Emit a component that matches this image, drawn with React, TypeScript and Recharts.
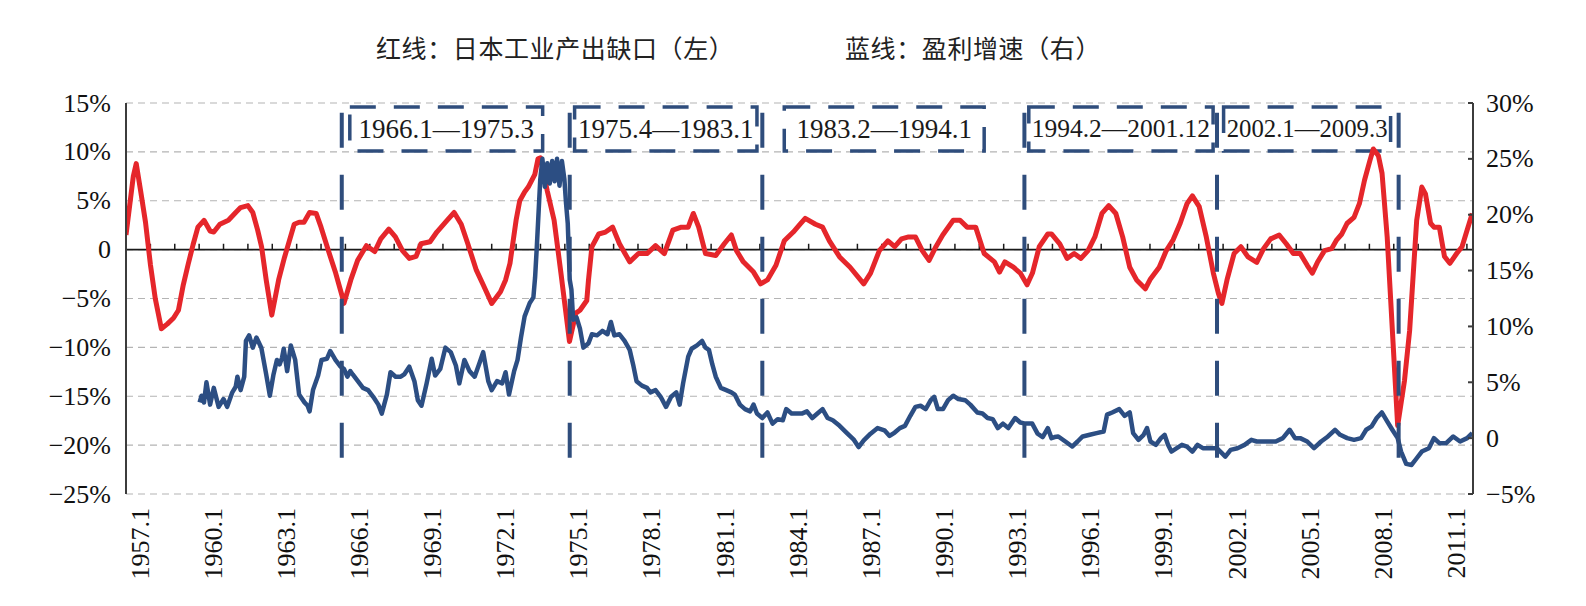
import React from "react";
import {
  LineChart,
  Line,
  XAxis,
  YAxis,
  CartesianGrid,
  ReferenceLine,
  ReferenceArea,
} from "recharts";

// ---- data ----------------------------------------------------------------
// Dates are decimal years (Jan = .0); red: output gap (left axis, %), blue: profit growth (right axis, %)
const redPoints: [number, number][] = [
  [1957.0, 1.5], [1957.15, 4.5], [1957.3, 7.5], [1957.42, 8.8], [1957.6, 6.0], [1957.8, 2.8],
  [1958.0, -1.5], [1958.2, -5.0], [1958.45, -8.1], [1958.7, -7.6], [1958.95, -7.0], [1959.15, -6.2],
  [1959.35, -3.6], [1959.55, -1.5], [1959.75, 0.5], [1959.95, 2.3], [1960.2, 3.0], [1960.45, 1.9],
  [1960.6, 1.8], [1960.85, 2.6], [1961.2, 3.0], [1961.5, 3.8], [1961.7, 4.3], [1962.0, 4.5],
  [1962.2, 3.8], [1962.4, 2.0], [1962.56, 0.3], [1962.75, -3.1], [1962.98, -6.7], [1963.26, -3.1],
  [1963.5, -0.8], [1963.9, 2.6], [1964.1, 2.8], [1964.3, 2.8], [1964.53, 3.8], [1964.8, 3.7],
  [1965.0, 2.3], [1965.3, -0.1], [1965.6, -2.4], [1965.87, -4.8], [1965.94, -5.5], [1966.22, -3.1],
  [1966.5, -1.1], [1966.86, 0.4], [1967.2, -0.2], [1967.45, 1.1], [1967.78, 2.1], [1968.05, 1.3],
  [1968.34, -0.1], [1968.62, -0.9], [1968.9, -0.7], [1969.1, 0.6], [1969.47, 0.8], [1969.75, 1.8],
  [1970.17, 3.0], [1970.46, 3.8], [1970.75, 2.6], [1971.02, 0.6], [1971.37, -2.1], [1971.65, -3.6],
  [1972.0, -5.5], [1972.36, -4.3], [1972.57, -3.1], [1972.75, -1.4], [1973.0, 3.0], [1973.15, 5.0],
  [1973.35, 5.9], [1973.5, 6.4], [1973.77, 7.7], [1973.9, 9.3], [1974.0, 9.4], [1974.28, 6.0],
  [1974.56, 3.0], [1974.84, -2.4], [1974.98, -5.2], [1975.19, -9.4], [1975.45, -6.5], [1975.62, -6.2],
  [1975.9, -5.2], [1975.97, -3.1], [1976.11, 0.3], [1976.39, 1.6], [1976.67, 1.8], [1976.96, 2.3],
  [1977.24, 0.6], [1977.66, -1.25], [1978.02, -0.4], [1978.37, -0.4], [1978.72, 0.4], [1979.08, -0.4],
  [1979.43, 2.0], [1979.78, 2.3], [1980.06, 2.3], [1980.27, 3.7], [1980.49, 2.3], [1980.77, -0.4],
  [1981.19, -0.6], [1981.54, 0.6], [1981.83, 1.5], [1982.04, -0.1], [1982.32, -1.25], [1982.74, -2.3],
  [1983.03, -3.5], [1983.31, -3.1], [1983.66, -1.6], [1984.0, 0.9], [1984.37, 1.8], [1984.65, 2.6],
  [1984.86, 3.2], [1985.28, 2.6], [1985.57, 2.3], [1985.85, 0.9], [1986.27, -0.75], [1986.7, -1.8],
  [1987.26, -3.5], [1987.54, -2.4], [1987.9, -0.1], [1988.25, 0.9], [1988.53, 0.3], [1988.81, 1.1],
  [1989.1, 1.3], [1989.38, 1.3], [1989.66, -0.1], [1989.94, -1.1], [1990.22, 0.3], [1990.5, 1.5],
  [1990.93, 3.0], [1991.21, 3.0], [1991.5, 2.3], [1991.85, 2.3], [1992.2, -0.4], [1992.62, -1.25],
  [1992.83, -2.3], [1993.05, -1.25], [1993.4, -1.8], [1993.68, -2.4], [1993.96, -3.6], [1994.18, -2.4],
  [1994.46, 0.3], [1994.81, 1.6], [1994.96, 1.6], [1995.3, 0.6], [1995.6, -0.9], [1995.89, -0.4],
  [1996.17, -0.9], [1996.46, -0.1], [1996.74, 1.3], [1997.03, 3.7], [1997.31, 4.5], [1997.6, 3.7],
  [1997.88, 1.3], [1998.17, -1.8], [1998.45, -3.1], [1998.81, -4.0], [1999.02, -3.0], [1999.38, -1.8],
  [1999.67, -0.1], [1999.95, 1.0], [2000.24, 2.7], [2000.52, 4.7], [2000.74, 5.5], [2001.02, 4.4],
  [2001.31, 1.3], [2001.6, -2.4], [2001.81, -4.5], [2001.95, -5.5], [2002.16, -3.1], [2002.45, -0.4],
  [2002.73, 0.3], [2003.02, -0.75], [2003.38, -1.3], [2003.66, 0.1], [2003.95, 1.1], [2004.3, 1.5],
  [2004.59, 0.6], [2004.88, -0.4], [2005.16, -0.4], [2005.45, -1.6], [2005.66, -2.4], [2005.87, -1.3],
  [2006.16, -0.1], [2006.45, 0.1], [2006.66, 1.0], [2006.87, 1.6], [2007.09, 2.7], [2007.37, 3.3],
  [2007.59, 4.7], [2007.8, 7.1], [2008.02, 9.1], [2008.16, 10.3], [2008.37, 9.6], [2008.52, 7.8],
  [2008.73, 1.3], [2009.16, -18.0], [2009.44, -13.4], [2009.65, -8.3], [2009.94, 3.0], [2010.15, 6.4],
  [2010.3, 5.7], [2010.51, 2.7], [2010.65, 2.3], [2010.87, 2.3], [2011.08, -0.7], [2011.3, -1.4],
  [2011.58, -0.4], [2011.8, 0.3], [2012.01, 2.0], [2012.22, 3.7],
];

const bluePoints: [number, number][] = [
  [1960.02, 3.2], [1960.1, 3.8], [1960.2, 3.2], [1960.3, 5.0], [1960.45, 3.0], [1960.6, 4.5],
  [1960.8, 2.8], [1961.0, 3.5], [1961.15, 2.8], [1961.36, 4.1], [1961.5, 4.6], [1961.57, 5.5],
  [1961.7, 4.3], [1961.85, 5.5], [1961.92, 8.7], [1962.05, 9.2], [1962.2, 8.1], [1962.35, 9.0],
  [1962.55, 8.1], [1962.75, 5.7], [1962.9, 3.8], [1963.05, 5.7], [1963.19, 7.0], [1963.3, 6.6],
  [1963.4, 7.2], [1963.47, 8.0], [1963.61, 6.0], [1963.76, 8.3], [1963.94, 7.0], [1964.1, 3.9],
  [1964.32, 3.2], [1964.45, 2.9], [1964.53, 2.4], [1964.67, 4.3], [1964.88, 5.6], [1965.02, 7.0],
  [1965.24, 7.1], [1965.38, 7.8], [1965.59, 7.0], [1965.8, 6.4], [1965.94, 6.2], [1966.08, 5.5],
  [1966.2, 6.0], [1966.3, 5.7], [1966.51, 5.1], [1966.72, 4.5], [1966.93, 4.3], [1967.14, 3.7],
  [1967.35, 3.0], [1967.49, 2.2], [1967.7, 3.9], [1967.85, 5.9], [1968.06, 5.5], [1968.27, 5.5],
  [1968.41, 5.7], [1968.62, 6.4], [1968.83, 5.1], [1968.97, 3.4], [1969.12, 2.9], [1969.33, 4.9],
  [1969.54, 7.1], [1969.68, 5.6], [1969.89, 6.2], [1970.1, 8.1], [1970.32, 7.7], [1970.53, 6.5],
  [1970.67, 4.9], [1970.88, 7.0], [1971.09, 6.0], [1971.3, 5.5], [1971.51, 6.8], [1971.65, 7.7],
  [1971.86, 5.1], [1972.0, 4.3], [1972.22, 5.1], [1972.43, 4.9], [1972.57, 5.9], [1972.71, 3.9],
  [1972.92, 6.0], [1973.06, 7.0], [1973.2, 9.0], [1973.35, 10.9], [1973.56, 12.1], [1973.71, 12.6],
  [1973.78, 14.4], [1973.85, 17.1], [1973.99, 23.1], [1974.08, 25.0], [1974.18, 22.5], [1974.28, 24.6],
  [1974.38, 22.8], [1974.48, 24.8], [1974.58, 23.0], [1974.68, 25.0], [1974.78, 22.6], [1974.88, 24.8],
  [1974.98, 23.2], [1975.05, 21.0], [1975.12, 19.2], [1975.2, 14.2], [1975.27, 13.3], [1975.34, 10.6],
  [1975.48, 10.8], [1975.62, 9.8], [1975.76, 8.1], [1975.97, 8.5], [1976.11, 9.3], [1976.32, 9.2],
  [1976.54, 9.6], [1976.75, 9.3], [1976.89, 10.4], [1977.03, 9.2], [1977.24, 9.3], [1977.45, 8.7],
  [1977.66, 7.9], [1977.8, 6.6], [1977.94, 5.1], [1978.16, 4.7], [1978.37, 4.5], [1978.51, 4.1],
  [1978.72, 4.3], [1978.93, 3.7], [1979.15, 2.8], [1979.36, 3.7], [1979.57, 4.1], [1979.71, 3.0],
  [1979.85, 4.9], [1980.06, 7.3], [1980.2, 8.0], [1980.42, 8.3], [1980.63, 8.7], [1980.77, 8.1],
  [1980.91, 7.9], [1981.05, 6.6], [1981.19, 5.5], [1981.4, 4.5], [1981.62, 4.3], [1981.83, 4.1],
  [1981.97, 3.9], [1982.18, 3.0], [1982.39, 2.6], [1982.6, 2.4], [1982.74, 3.0], [1982.88, 2.2],
  [1983.1, 1.8], [1983.31, 2.3], [1983.52, 1.3], [1983.73, 1.7], [1983.94, 1.6], [1984.08, 2.6],
  [1984.3, 2.2], [1984.51, 2.2], [1984.72, 2.2], [1984.93, 2.4], [1985.15, 1.8], [1985.36, 2.2],
  [1985.57, 2.6], [1985.78, 1.8], [1985.99, 1.6], [1986.27, 1.1], [1986.55, 0.5], [1986.84, -0.1],
  [1987.05, -0.8], [1987.26, -0.2], [1987.54, 0.4], [1987.83, 0.9], [1988.11, 0.7], [1988.32, 0.2],
  [1988.53, 0.5], [1988.74, 0.9], [1988.95, 1.1], [1989.17, 2.0], [1989.38, 2.8], [1989.59, 2.9],
  [1989.8, 2.6], [1990.01, 3.4], [1990.15, 3.7], [1990.3, 2.6], [1990.51, 2.6], [1990.72, 3.4],
  [1990.93, 3.8], [1991.14, 3.5], [1991.42, 3.4], [1991.63, 3.0], [1991.92, 2.3], [1992.13, 2.2],
  [1992.34, 1.8], [1992.55, 1.7], [1992.76, 0.9], [1992.97, 1.3], [1993.19, 0.9], [1993.47, 1.8],
  [1993.68, 1.4], [1993.89, 1.3], [1994.17, 1.3], [1994.39, 0.4], [1994.6, 0.1], [1994.81, 0.9],
  [1994.96, 0.0], [1995.09, 0.1], [1995.24, 0.15], [1995.53, -0.3], [1995.81, -0.75], [1996.03, -0.3],
  [1996.24, 0.15], [1996.53, 0.3], [1996.81, 0.45], [1997.1, 0.6], [1997.24, 2.1], [1997.45, 2.3],
  [1997.74, 2.6], [1997.96, 2.0], [1998.17, 2.3], [1998.31, 0.45], [1998.53, -0.15], [1998.74, 0.3],
  [1998.88, 0.9], [1999.02, -0.3], [1999.24, -0.6], [1999.45, 0.0], [1999.6, 0.3], [1999.74, -0.6],
  [1999.88, -1.2], [2000.1, -0.9], [2000.31, -0.6], [2000.52, -0.75], [2000.74, -1.2], [2000.95, -0.6],
  [2001.17, -0.9], [2001.45, -0.9], [2001.74, -0.9], [2001.95, -1.35], [2002.09, -1.65], [2002.31, -1.05],
  [2002.59, -0.9], [2002.88, -0.6], [2003.16, -0.15], [2003.38, -0.3], [2003.59, -0.3], [2003.88, -0.3],
  [2004.16, -0.3], [2004.45, 0.0], [2004.73, 0.75], [2004.95, 0.0], [2005.16, 0.0], [2005.45, -0.3],
  [2005.73, -0.9], [2006.02, -0.3], [2006.3, 0.15], [2006.59, 0.75], [2006.8, 0.3], [2007.09, 0.0],
  [2007.37, -0.15], [2007.66, 0.0], [2007.87, 0.75], [2008.09, 1.05], [2008.3, 1.8], [2008.51, 2.3],
  [2008.73, 1.5], [2008.94, 0.75], [2009.16, 0.0], [2009.3, -1.2], [2009.51, -2.3], [2009.73, -2.4],
  [2009.94, -1.8], [2010.15, -1.2], [2010.44, -0.9], [2010.65, 0.0], [2010.87, -0.45], [2011.15, -0.45],
  [2011.44, 0.15], [2011.72, -0.3], [2012.01, 0.0], [2012.22, 0.45],
];

// x-axis labels (year.month)
const xTickLabels = [
  "1957.1", "1960.1", "1963.1", "1966.1", "1969.1", "1972.1", "1975.1", "1978.1", "1981.1",
  "1984.1", "1987.1", "1990.1", "1993.1", "1996.1", "1999.1", "2002.1", "2005.1", "2008.1", "2011.1",
];
const leftTicks = [-25, -20, -15, -10, -5, 0, 5, 10, 15];
const rightTicks = [-5, 0, 5, 10, 15, 20, 25, 30];

// period breaks (decimal years) and the dashed period boxes
const breakDates = [1965.85, 1975.2, 1983.1, 1993.85, 2001.75, 2009.2];
const periodLabels = ["1966.1—1975.3", "1975.4—1983.1", "1983.2—1994.1", "1994.2—2001.12", "2002.1—2009.3"];
const periodBoxStart = [1966.18, 1975.4, 1984.0, 1994.03, 2002.02];
const periodBoxEnd = [1974.09, 1982.88, 1992.2, 2001.59, 2008.87];

const titleRed = "红线：日本工业产出缺口（左）";
const titleBlue = "蓝线：盈利增速（右）";

// ---- layout ----------------------------------------------------------------
const W = 1570;
const H = 590;
const LEFT_W = 118;
const RIGHT_W = 105;
const TOP = 95;
const XAXIS_H = 100;
const BOTTOM = 4;
const PLOT_LEFT = LEFT_W;
const PLOT_RIGHT = W - RIGHT_W;

const SERIF = '"Liberation Serif", "Times New Roman", serif';
const CJK = '"Noto Sans CJK SC", "Noto Sans CJK TC", sans-serif';
const RED = "#E5262B";
const BLUE = "#2C4E83";
const NAVY = "#2F4D7C";
const AXIS = "#3c3c3c";

const toDecimal = (s: string) => {
  const [y, m] = s.split(".").map(Number);
  return y + (m - 1) / 12;
};
const xTickValues = xTickLabels.map(toDecimal);

const redData = redPoints.map(([t, v]) => ({ t, red: v }));
const blueData = bluePoints.map(([t, v]) => ({ t, blue: v }));

const firstYear = Math.ceil(redPoints[0][0]);
const lastYear = Math.floor(redPoints[redPoints.length - 1][0]);
const yearMarks: number[] = [];
for (let y = firstYear + 1; y <= lastYear; y++) yearMarks.push(y);

const pct = (v: number) => (v === 0 ? "0" : (v < 0 ? "\u2212" + Math.abs(v) : String(v)) + "%");

const LeftTick = (props: any) => {
  const { y, payload } = props;
  return (
    <text x={PLOT_LEFT - 15} y={y} textAnchor="end" dominantBaseline="central"
      fontFamily={SERIF} fontSize={26} fill="#111">
      {pct(payload.value)}
    </text>
  );
};

const RightTick = (props: any) => {
  const { y, payload } = props;
  return (
    <g>
      <line x1={PLOT_RIGHT - 5} x2={PLOT_RIGHT} y1={y} y2={y} stroke={AXIS} strokeWidth={2} />
      <text x={PLOT_RIGHT + 13} y={y} textAnchor="start" dominantBaseline="central"
        fontFamily={SERIF} fontSize={26} fill="#111">
        {pct(payload.value)}
      </text>
    </g>
  );
};

const XTick = (props: any) => {
  const { x, payload } = props;
  const idx = xTickValues.indexOf(payload.value);
  const label = idx >= 0 ? xTickLabels[idx] : "";
  const cx = x + 14;
  const top = H - BOTTOM - XAXIS_H + 14;
  return (
    <text x={cx} y={top} transform={`rotate(-90 ${cx} ${top})`} textAnchor="end"
      dominantBaseline="central" fontFamily={SERIF} fontSize={26} fill="#111">
      {label}
    </text>
  );
};

const emWidth = (s: string) =>
  s.split("").reduce((a, c) => a + (c === "." ? 0.25 : c === "—" ? 1 : 0.5), 0);

const boxLabel = (text: string) => (p: any) => {
  const vb = p.viewBox || {};
  const fs = Math.min(27, (vb.width - 6) / emWidth(text));
  return (
    <text x={vb.x + vb.width / 2} y={vb.y + vb.height / 2} textAnchor="middle"
      dominantBaseline="central" fontFamily={SERIF} fontSize={fs} fill="#1a1a1a">
      {text}
    </text>
  );
};

export default function App() {
  return (
    <div style={{ position: "relative", width: W, height: H }}>
      <div style={{ position: "absolute", top: 27, left: 368, fontFamily: CJK, fontSize: 25,
        lineHeight: "25px", color: "#222", whiteSpace: "nowrap", letterSpacing: 0.6 }}>
        {titleRed}
      </div>
      <div style={{ position: "absolute", top: 27, left: 837, fontFamily: CJK, fontSize: 25,
        lineHeight: "25px", color: "#222", whiteSpace: "nowrap", letterSpacing: 0.6 }}>
        {titleBlue}
      </div>
      <LineChart width={W} height={H} margin={{ top: TOP, right: 0, left: 0, bottom: BOTTOM }}>
        <CartesianGrid yAxisId="left" vertical={false} stroke="#b4b4b4" strokeDasharray="7 5" strokeWidth={1.2} />
        <XAxis dataKey="t" type="number" domain={[1957, 2012.25]} allowDataOverflow
          ticks={xTickValues} interval={0} axisLine={false} tickLine={false}
          height={XAXIS_H} tick={XTick} />
        <YAxis yAxisId="left" orientation="left" width={LEFT_W} domain={[-25, 15]} ticks={leftTicks}
          interval={0} axisLine={{ stroke: AXIS, strokeWidth: 2 }} tickLine={false} tick={LeftTick} />
        <YAxis yAxisId="right" orientation="right" width={RIGHT_W} domain={[-5, 30]} ticks={rightTicks}
          interval={0} axisLine={{ stroke: AXIS, strokeWidth: 2 }} tickLine={false} tick={RightTick} />

        <ReferenceLine yAxisId="left" y={0} stroke="#1a1a1a" strokeWidth={1.6} />
        {yearMarks.map((yr) => (
          <ReferenceLine key={"m" + yr} yAxisId="left"
            segment={[{ x: yr, y: 0 }, { x: yr, y: 0.6 }]} stroke="#1a1a1a" strokeWidth={1.5} />
        ))}

        <Line yAxisId="left" data={redData} dataKey="red" type="linear" dot={false}
          stroke={RED} strokeWidth={5} strokeLinejoin="round" isAnimationActive={false} />
        <Line yAxisId="right" data={blueData} dataKey="blue" type="linear" dot={false}
          stroke={BLUE} strokeWidth={4.5} strokeLinejoin="round" isAnimationActive={false} />

        {breakDates.map((d) => (
          <ReferenceLine key={"b" + d} yAxisId="left"
            segment={[{ x: d, y: 14 }, { x: d, y: -21.4 }]}
            stroke={NAVY} strokeWidth={4} strokeDasharray="35 27" />
        ))}
        {periodLabels.map((lab, i) => (
          <ReferenceArea key={lab} yAxisId="left" x1={periodBoxStart[i]} x2={periodBoxEnd[i]}
            y1={10.1} y2={14.6} fill="none" fillOpacity={0} stroke={NAVY} strokeWidth={3.5}
            strokeDasharray="26 18" label={boxLabel(lab)} />
        ))}
      </LineChart>
    </div>
  );
}
